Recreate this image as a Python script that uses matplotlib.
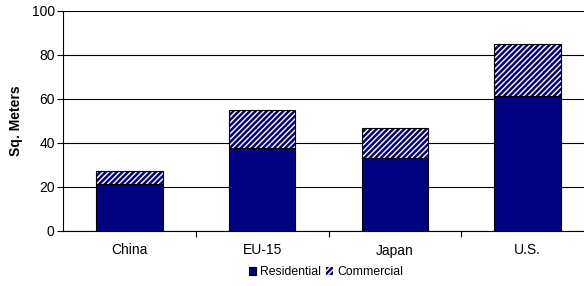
import matplotlib.pyplot as plt
import matplotlib as mpl

plt.rcParams['font.family'] = ['Liberation Sans', 'DejaVu Sans']
mpl.rcParams['hatch.linewidth'] = 1.8

# data
regions = ['China', 'EU-15', 'Japan', 'U.S.']
residential = [21.5, 37.5, 33.2, 61.0]
commercial = [5.8, 17.6, 13.3, 23.6]

navy = '#000080'

fig = plt.figure(figsize=(5.84, 2.86), dpi=100)
ax = fig.add_axes([63/584, 1 - 231/286, 531/584, 220.5/286])

x = list(range(len(regions)))
ax.bar(x, residential, width=0.5, color=navy, edgecolor='black', linewidth=0.8,
       label='Residential', zorder=3)
# hatched part: edgecolor sets the stripe colour, outline drawn on top in black
ax.bar(x, commercial, width=0.5, bottom=residential, color='white', edgecolor=navy,
       hatch='//////', linewidth=0, label='Commercial', zorder=3)
ax.bar(x, commercial, width=0.5, bottom=residential, fill=False, edgecolor='black',
       linewidth=0.8, zorder=4)

ax.set_xlim(-0.5, 3.5)
ax.set_ylim(0, 100)
ax.set_yticks(range(0, 101, 20))
ax.yaxis.grid(True, color='black', linewidth=0.8)
ax.set_axisbelow(True)

ax.set_xticks(x)
ax.set_xticklabels(regions, fontsize=10)
ax.tick_params(axis='x', length=0, pad=9)
ax.set_xticks([0.5, 1.5, 2.5], minor=True)
ax.tick_params(axis='x', which='minor', length=4, width=0.8, color='black')
ax.tick_params(axis='y', labelsize=10, length=4, width=0.8, pad=2)

for s in ['top', 'right']:
    ax.spines[s].set_visible(False)
ax.spines['left'].set_linewidth(0.8)
ax.spines['bottom'].set_linewidth(0.8)

ax.set_ylabel('Sq. Meters', fontsize=10, fontweight='bold', labelpad=6)

handles, labels = ax.get_legend_handles_labels()
fig.legend(handles[:2], labels[:2], loc='center', bbox_to_anchor=(326/584, 1 - 272/286),
           ncol=2, fontsize=8.8, frameon=False, handlelength=0.6, handleheight=0.6,
           handletextpad=0.3, columnspacing=0.4, borderpad=0)

fig.savefig('out.png', dpi=100)
